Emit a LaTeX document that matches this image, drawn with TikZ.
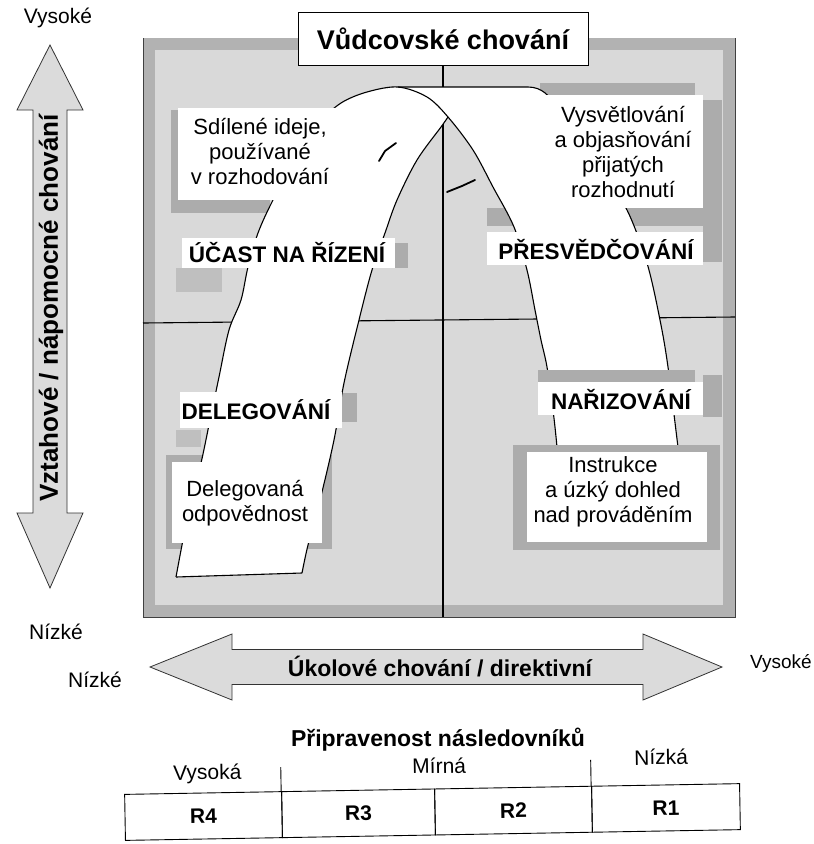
\documentclass[tikz,border=0pt]{standalone}
\usepackage{fontspec}
\setmainfont{Liberation Sans}
\begin{document}
\begin{tikzpicture}[x=1pt,y=-1pt,
  reg/.style={font=\fontsize{22}{25}\selectfont, align=center, inner sep=0pt},
  lab/.style={font=\bfseries\fontsize{22.5}{26}\selectfont, inner sep=0pt},
  axl/.style={font=\fontsize{21}{24}\selectfont, inner sep=0pt},
  shade/.style={fill=gray!65},
  softshade/.style={fill=gray!50},
  bg/.style={fill=gray!30},
  curve/.style={line width=1.1pt},
  wbox/.style={fill=white},
  bigarrow/.style={fill=gray!28, draw=black!80, line width=0.8pt, line join=miter},
  cell/.style={draw, line width=0.9pt, minimum height=46, inner sep=0pt, font=\bfseries\fontsize{21}{24}\selectfont},
]
\useasboundingbox (0,0) rectangle (814,844);

% ---------- frame ----------
\fill[bg] (143,38) rectangle (735,617);
\draw[gray!60, line width=12pt] (149,44) rectangle (729,611);
\draw[black!75, line width=0.8pt] (143,38) -- (143,617) -- (735,617) -- (735,38);

% ---------- shading under the ribbon ----------
\fill[shade] (171,110) rectangle (270,213);
\fill[shade] (395,243) rectangle (408,268);
\fill[softshade] (176,268) rectangle (222,292);
\fill[shade] (342,393) rectangle (357,422);
\fill[softshade] (176,430) rectangle (201,447);
\fill[shade] (166,455) rectangle (332,549);
\fill[shade] (540,83) rectangle (695,95);
\fill[shade] (703,100) rectangle (722,262);
\fill[shade] (487,208) rectangle (703,226);
\fill[shade] (703,375) rectangle (722,417);

% ---------- title ----------
\node[draw, line width=0.9pt, fill=white, minimum width=290, minimum height=53,
      font=\bfseries\fontsize{27}{30}\selectfont] (title) at (443,38.5) {Vůdcovské chování};

% ---------- axes lines ----------
\coordinate (vbot) at (443,617);
\draw[curve] (title.south) -- (vbot);
\coordinate (ml) at (143,323);
\coordinate (mr) at (735,317);
\draw[curve] (ml) -- (mr);

% ---------- white ribbon ----------
\fill[white] plot[smooth,tension=0.55] coordinates {(176,577) (182,545) (190,505) (201,463) (210,420) (219,377) (229,330) (241,300) (248,267) (258,233) (273,200) (300,150) (320,122) (341,103) (367,92) (398,87)}
  -- (528,87) .. controls (542,87) and (550,96) .. (557,108)
  -- plot[smooth,tension=0.55] coordinates {(557,108) (580,145) (605,180) (627,210) (647,263) (660,320) (668,367) (678,447) (683,485)}
  -- (560,485)
  -- plot[smooth,tension=0.55] coordinates {(560,485) (557,447) (553,410) (547,367) (541,340) (535,310) (527,270) (514,227) (493,187) (473,150) (448,117)}
  -- plot[smooth,tension=0.55] coordinates {(448,117) (441,127) (417,160) (397,200) (385,233) (372,270) (359,320) (344,383) (334,440) (320,500) (308,545) (302,573)}
  -- cycle;

% curve A (outer left, over the top, inner right)
\draw[curve] plot[smooth,tension=0.55] coordinates {(176,577) (182,545) (190,505) (201,463) (210,420) (219,377) (229,330) (241,300) (248,267) (258,233) (273,200) (300,150) (320,122) (341,103) (367,92) (398,87) (427,97) (448,117) (473,150) (493,187) (514,227) (527,270) (535,310) (541,340) (547,367) (553,410) (557,447) (560,485)};
% curve C (top line and outer right)
\draw[curve] (398,87) -- (528,87) .. controls (542,87) and (550,96) .. (557,108)
  -- plot[smooth,tension=0.55] coordinates {(557,108) (580,145) (605,180) (627,210) (647,263) (660,320) (668,367) (678,447) (683,485)};
% curve B (inner left)
\draw[curve] plot[smooth,tension=0.55] coordinates {(448,117) (441,127) (417,160) (397,200) (385,233) (372,270) (359,320) (344,383) (334,440) (320,500) (308,545) (302,573)};
\draw[curve] (176,577) -- (302,573);

% small strokes
\draw[line width=1.8pt, line cap=round] (379,161) -- (385,151) -- (396,143);
\draw[line width=1.8pt, line cap=round] (447,192) -- (462,186) -- (475,180);

% ---------- shading over the ribbon ----------
\fill[shade] (538,370) rectangle (695,382);
\fill[shade] (513,445) rectangle (720,550);

% ---------- white label boxes ----------
\fill[wbox] (178,108) rectangle (338,200);
\fill[wbox] (182,238) rectangle (395,268);
\fill[wbox] (180,392) rectangle (342,428);
\fill[wbox] (172,462) rectangle (322,543);
\fill[wbox] (540,95) rectangle (703,208);
\fill[wbox] (487,232) rectangle (703,265);
\fill[wbox] (538,382) rectangle (703,415);
\fill[wbox] (527,452) rectangle (707,542);

% ---------- texts in the diagram ----------
\node[reg] (sd) at (260,152) {Sdílené ideje,\\používané\\v rozhodování};
\node[lab] (ucast) at (287,253) {ÚČAST NA ŘÍZENÍ};
\node[lab] (deleg) at (256,410) {DELEGOVÁNÍ};
\node[reg] (delo) at (245,503) {Delegovaná\\odpovědnost};
\node[reg] (vysv) at (623,152) {Vysvětlování\\a objasňování\\přijatých\\rozhodnutí};
\node[lab] (pres) at (596,250) {PŘESVĚDČOVÁNÍ};
\node[lab] (nariz) at (621,400) {NAŘIZOVÁNÍ};
\node[reg] (instr) at (613,492) {Instrukce\\a úzký dohled\\nad prováděním};

% ---------- vertical axis ----------
\node[axl] (vtop) at (58,18) {Vysoké};
\node[axl] (vlow) at (56,632) {Nízké};
\draw[bigarrow] (50,45) -- (83,110) -- (67,110) -- (67,513) -- (83,513) -- (50,588)
  -- (17,513) -- (33,513) -- (33,110) -- (17,110) -- cycle;
\node[rotate=90, font=\bfseries\fontsize{26}{30}\selectfont, inner sep=0pt] (vlab) at (51,308) {Vztahové / nápomocné chování};

% ---------- horizontal axis ----------
\node[axl] (hlow) at (95,680) {Nízké};
\node[font=\fontsize{19}{22}\selectfont, inner sep=0pt, anchor=east] (hhigh) at (812,663) {Vysoké};
\draw[bigarrow] (150,667) -- (232,634) -- (232,649.5) -- (643,649.5) -- (643,634) -- (722,667)
  -- (643,700) -- (643,684.5) -- (232,684.5) -- (232,700) -- cycle;
\node[font=\bfseries\fontsize{23}{26}\selectfont, inner sep=0pt] (hlab) at (440,667) {Úkolové chování / direktivní};

% ---------- readiness ----------
\node[font=\bfseries\fontsize{23}{26}\selectfont, inner sep=0pt] (prip) at (438,740) {Připravenost následovníků};
\begin{scope}[rotate around={1:(433,812)}, transform shape]
  \node[cell, minimum width=157] (r4) at (203.5,812) {R4};
  \node[cell, minimum width=153] (r3) at (358.5,812) {R3};
  \node[cell, minimum width=157] (r2) at (513.5,812) {R2};
  \node[cell, minimum width=148] (r1) at (666,812) {R1};
  \draw[line width=0.9pt] (r3.north west) -- ++(0,-24);
  \draw[line width=0.9pt] (r1.north west) -- ++(0,-26);
  \node[axl] (hi) at (208,770) {Vysoká};
  \node[axl] (mid) at (440,766) {Mírná};
  \node[axl] (lo) at (662,761) {Nízká};
\end{scope}
\end{tikzpicture}
\end{document}
